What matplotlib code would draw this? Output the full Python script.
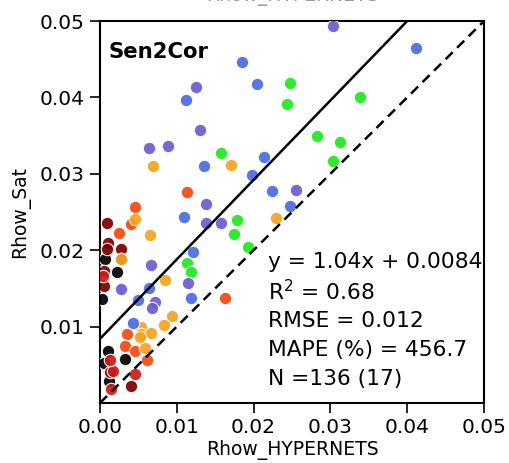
import numpy as np
import matplotlib.pyplot as plt

# in-situ (HYPERNETS) vs satellite water-leaving reflectance, grouped by colour
blue_x = [0.0412, 0.0185, 0.0205, 0.0112, 0.0136, 0.0214, 0.0198, 0.0224, 0.0248,
          0.0110, 0.0121, 0.0118, 0.0064, 0.0049, 0.0043]
blue_y = [0.0465, 0.0447, 0.0418, 0.0397, 0.0310, 0.0322, 0.0298, 0.0277, 0.0258,
          0.0243, 0.0198, 0.0138, 0.0151, 0.0135, 0.0105]

purple_x = [0.0304, 0.0125, 0.0130, 0.0064, 0.0088, 0.0138, 0.0138, 0.0158, 0.0255,
            0.0067, 0.0114, 0.0028, 0.0072, 0.0068]
purple_y = [0.0493, 0.0413, 0.0358, 0.0334, 0.0337, 0.0261, 0.0235, 0.0236, 0.0279,
            0.0180, 0.0157, 0.0149, 0.0132, 0.0125]

green_x = [0.0247, 0.0243, 0.0339, 0.0282, 0.0313, 0.0304, 0.0158, 0.0178, 0.0174,
           0.0193, 0.0113, 0.0118]
green_y = [0.0419, 0.0391, 0.0401, 0.0350, 0.0342, 0.0317, 0.0327, 0.0239, 0.0221,
           0.0204, 0.0183, 0.0172]

orange_x = [0.0069, 0.0171, 0.0229, 0.0045, 0.0065, 0.0085, 0.0094, 0.0083, 0.0054,
            0.0054, 0.0066, 0.0059, 0.0028, 0.0052]
orange_y = [0.0310, 0.0312, 0.0242, 0.0241, 0.0220, 0.0161, 0.0114, 0.0102, 0.0100,
            0.0090, 0.0092, 0.0072, 0.0189, 0.0086]

orangered_x = [0.0113, 0.0163, 0.0045, 0.0041, 0.0025, 0.0035, 0.0033, 0.0046, 0.0061]
orangered_y = [0.0276, 0.0138, 0.0257, 0.0234, 0.0222, 0.0090, 0.0075, 0.0068, 0.0056]

red_x = [0.0045, 0.0017, 0.0015, 0.0013, 0.0004]
red_y = [0.0038, 0.0042, 0.0018, 0.0056, 0.0166]

darkred_x = [0.0009, 0.0010, 0.0028, 0.0028, 0.0005, 0.0005, 0.0040, 0.0013, 0.0009]
darkred_y = [0.0235, 0.0210, 0.0201, 0.0189, 0.0173, 0.0153, 0.0022, 0.0040, 0.0201]

black_x = [0.0007, 0.0022, 0.0003, 0.0011, 0.0005, 0.0033, 0.0012]
black_y = [0.0188, 0.0172, 0.0136, 0.0068, 0.0053, 0.0058, 0.0029]

slope, intercept = 1.04, 0.0084
stats = ['y = 1.04x + 0.0084', 'R$^2$ = 0.68', 'RMSE = 0.012',
         'MAPE (%) = 456.7', 'N =136 (17)']

groups = [
    (black_x, black_y, 'black'),
    (darkred_x, darkred_y, '#7a0000'),
    (red_x, red_y, '#cc1a1a'),
    (orangered_x, orangered_y, '#f04a10'),
    (orange_x, orange_y, '#f5a320'),
    (green_x, green_y, '#1ee81e'),
    (blue_x, blue_y, '#4a6be0'),
    (purple_x, purple_y, '#6e5ad0'),
]

fig = plt.figure(figsize=(5.1, 4.63), dpi=100)
ax = fig.add_axes([0.196, 0.1296, 0.753, 0.825])

for gx, gy, c in groups:
    ax.scatter(gx, gy, s=80, color=c, edgecolors='white', linewidths=0.8,
               alpha=0.92, zorder=3)

lim = np.array([0.0, 0.05])
ax.plot(lim, lim, 'k--', lw=1.8, dashes=(4, 2.5), zorder=4)
ax.plot(lim, slope * lim + intercept, 'k-', lw=1.8, zorder=4)

ax.set_xlim(0, 0.05)
ax.set_ylim(0, 0.05)
ax.set_xticks([0.0, 0.01, 0.02, 0.03, 0.04, 0.05])
ax.set_yticks([0.01, 0.02, 0.03, 0.04, 0.05])
ax.xaxis.set_major_formatter(plt.FormatStrFormatter('%.2f'))
ax.yaxis.set_major_formatter(plt.FormatStrFormatter('%.2f'))
ax.tick_params(direction='out', length=7, width=1.2, labelsize=14.5, pad=4)
for sp in ax.spines.values():
    sp.set_linewidth(1.5)

ax.set_xlabel('Rhow_HYPERNETS', fontsize=13.5, labelpad=2)
ax.set_ylabel('Rhow_Sat', fontsize=13.5, labelpad=7)

ax.text(0.021, 0.919, 'Sen2Cor', transform=ax.transAxes, fontsize=15.3,
        fontweight='bold', va='center', ha='left')

line_y = [0.369, 0.291, 0.215, 0.139, 0.063]
for txt, ty in zip(stats, line_y):
    ax.text(0.4375, ty, txt, transform=ax.transAxes, fontsize=15.7,
            va='center', ha='left')

# x label of the panel above, only its lower edge falls inside the frame
fig.text(292 / 510, 1 - 1.5 / 463, 'Rhow_HYPERNETS', fontsize=13.5,
         ha='center', va='baseline', color='0.6')

fig.savefig('out.png', dpi=100)
